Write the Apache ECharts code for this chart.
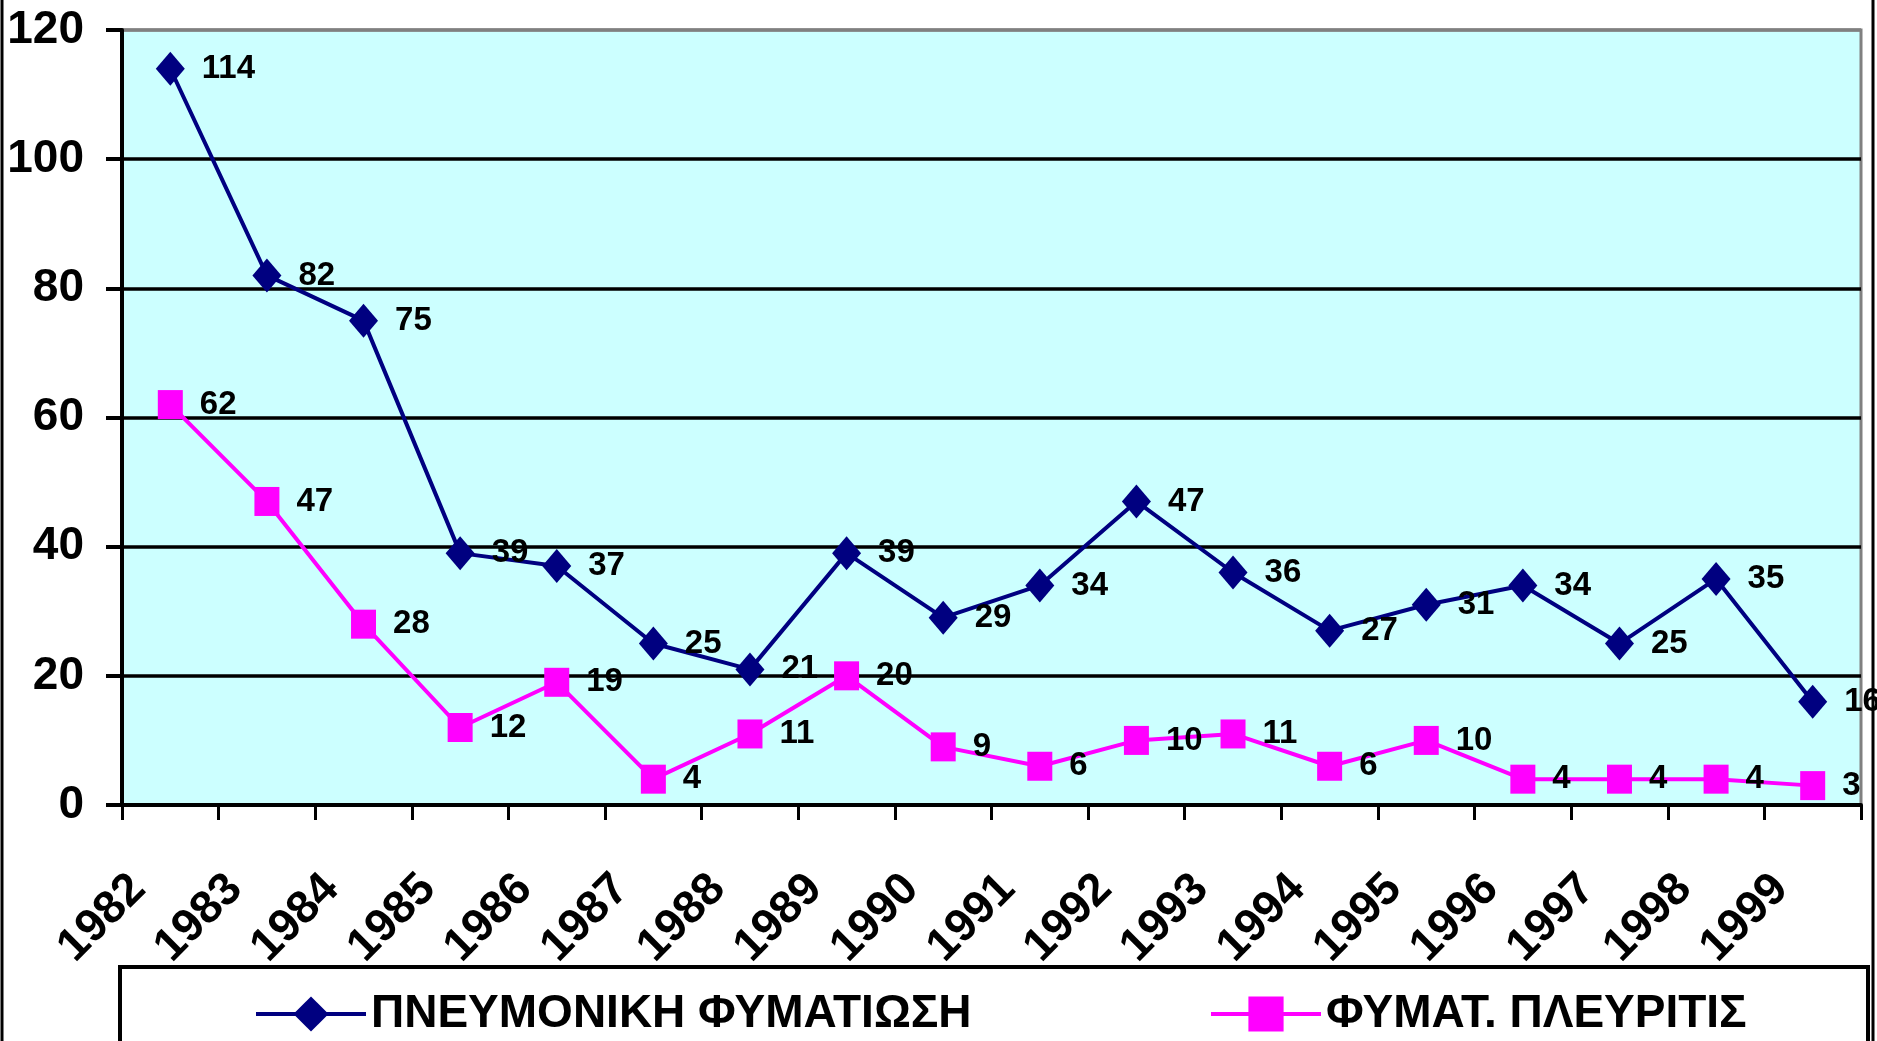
<!DOCTYPE html>
<html>
<head>
<meta charset="utf-8">
<title>Φυματίωση 1982-1999</title>
<script src="https://cdn.jsdelivr.net/npm/echarts@6/dist/echarts.min.js"></script>
<style>
    html, body { margin: 0; padding: 0; background: #fff; }
    .chart { width: 1877px; height: 1041px; }
</style>
</head>
<body>
<div class="chart"></div>
<script>
// δεδομένα
let years = ['1982', '1983', '1984', '1985', '1986', '1987', '1988', '1989', '1990',
    '1991', '1992', '1993', '1994', '1995', '1996', '1997', '1998', '1999'];
let pneumonic = [114, 82, 75, 39, 37, 25, 21, 39, 29, 34, 47, 36, 27, 31, 34, 25, 35, 16];
let pleuritis = [62, 47, 28, 12, 19, 4, 11, 20, 9, 6, 10, 11, 6, 10, 4, 4, 4, 3];
let yTicks = [0, 20, 40, 60, 80, 100, 120];

let nameA = 'ΠΝΕΥΜΟΝΙΚΗ ΦΥΜΑΤΙΩΣΗ';
let nameB = 'ΦΥΜΑΤ. ΠΛΕΥΡΙΤΙΣ';

(function() {
    let font = '"Liberation Sans Narrow", "Liberation Sans", Arial, sans-serif'
    let myChart = echarts.init(document.querySelector('.chart'))

    let labelStyle = {
        show: true,
        position: 'right',
        distance: 17,
        formatter: '{c}',
        color: '#000',
        fontFamily: font,
        fontWeight: 'bold',
        fontSize: 33
    }

    let legendText = {
        color: '#000',
        fontFamily: font,
        fontWeight: 'bold',
        fontSize: 46
    }

    let option = {
        animation: false,
        backgroundColor: '#fff',
        grid: {
            left: 122,
            top: 30,
            right: 16,
            bottom: 236,
            outerBoundsMode: 'none',
            show: true,
            backgroundColor: '#CCFFFF',
            borderColor: '#808080',
            borderWidth: 3
        },
        legend: [{
            data: [nameA],
            left: 249,
            top: 986,
            itemWidth: 110,
            itemHeight: 44,
            lineStyle: { width: 4 },
            textStyle: legendText
        }, {
            data: [nameB],
            left: 1204,
            top: 986,
            itemWidth: 110,
            itemHeight: 44,
            lineStyle: { width: 4 },
            textStyle: legendText
        }],
        xAxis: {
            type: 'category',
            data: years,
            boundaryGap: true,
            axisLine: { lineStyle: { color: '#000', width: 4 } },
            axisTick: { show: true, length: 15, lineStyle: { color: '#000', width: 3 } },
            splitLine: { show: false },
            axisLabel: {
                interval: 0,
                rotate: 45,
                margin: 45,
                padding: [0, 45, 0, 0],
                color: '#000',
                fontFamily: font,
                fontWeight: 'bold',
                fontSize: 46
            }
        },
        yAxis: {
            type: 'value',
            min: yTicks[0],
            max: yTicks[yTicks.length - 1],
            interval: yTicks[1] - yTicks[0],
            axisLine: { show: true, lineStyle: { color: '#000', width: 4 } },
            axisTick: { show: true, length: 16, lineStyle: { color: '#000', width: 4 } },
            splitLine: {
                show: true,
                lineStyle: {
                    color: ['#000', '#000', '#000', '#000', '#000', '#000', '#808080'],
                    width: 3.5
                }
            },
            axisLabel: {
                margin: 38,
                color: '#000',
                fontFamily: font,
                fontWeight: 'bold',
                fontSize: 46
            }
        },
        series: [{
            name: nameA,
            type: 'line',
            data: pneumonic,
            symbol: 'diamond',
            symbolSize: [29, 34],
            lineStyle: { color: '#000080', width: 4 },
            itemStyle: { color: '#000080' },
            label: labelStyle,
            z: 3
        }, {
            name: nameB,
            type: 'line',
            data: pleuritis,
            symbol: 'rect',
            symbolSize: [25, 29],
            lineStyle: { color: '#FF00FF', width: 4 },
            itemStyle: { color: '#FF00FF' },
            label: labelStyle,
            z: 2
        }],
        graphic: [{
            // περίγραμμα υπομνήματος
            type: 'rect',
            shape: { x: 120, y: 967, width: 1748, height: 120 },
            style: { fill: 'none', stroke: '#000', lineWidth: 4 },
            z: -1
        }, {
            // εξωτερικό πλαίσιο
            type: 'rect',
            shape: { x: 2, y: -20, width: 1871, height: 1100 },
            style: { fill: 'none', stroke: '#000', lineWidth: 3 },
            z: -1
        }]
    }
    myChart.setOption(option)
})();
</script>
</body>
</html>
